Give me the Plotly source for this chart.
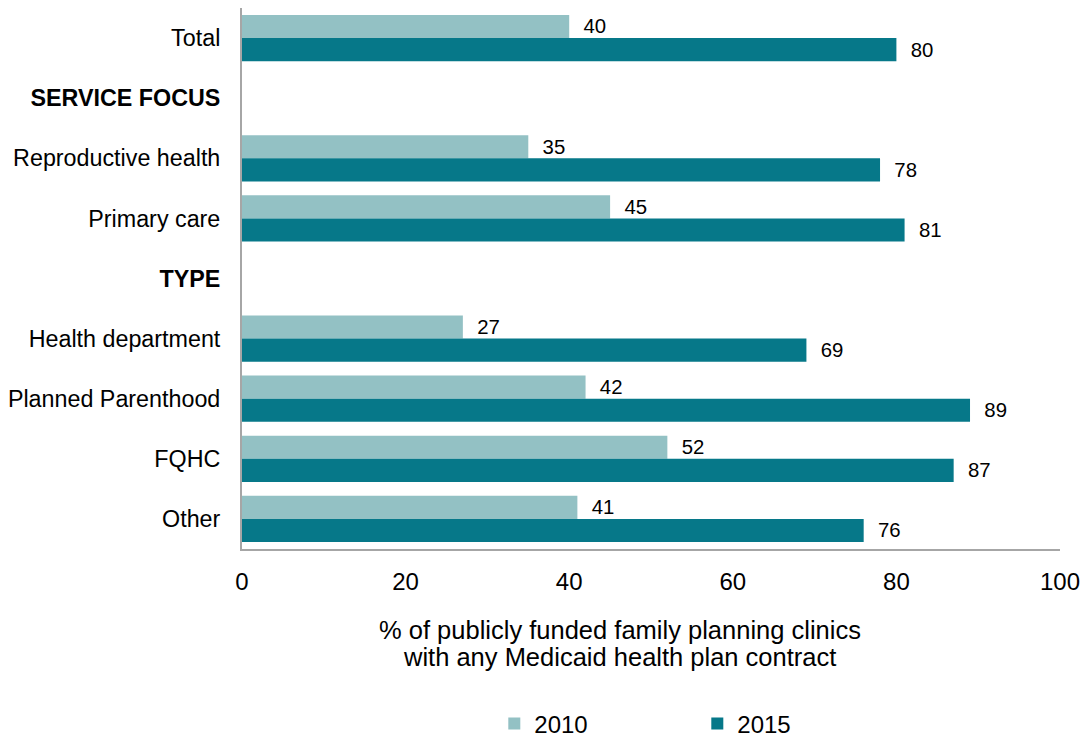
import plotly.graph_objects as go

categories = ["Total", "<b>SERVICE FOCUS</b>", "Reproductive health", "Primary care",
              "<b>TYPE</b>", "Health department", "Planned Parenthood", "FQHC", "Other"]
values_2010 = [40, None, 35, 45, None, 27, 42, 52, 41]
values_2015 = [80, None, 78, 81, None, 69, 89, 87, 76]
x_ticks = [0, 20, 40, 60, 80, 100]
axis_title_lines = ["% of publicly funded family planning clinics",
                    "with any Medicaid health plan contract"]

FONT = "Liberation Sans, Arial, sans-serif"
C2010 = "#93C1C4"
C2015 = "#067889"

fig = go.Figure()
for name, vals, col in [("2010", values_2010, C2010), ("2015", values_2015, C2015)]:
    fig.add_trace(go.Bar(
        name=name, y=categories, x=vals, orientation="h",
        marker=dict(color=col, line=dict(width=0)),
        text=[("" if v is None else f"{v}") for v in vals],
        texttemplate="  %{text}",
        textposition="outside",
        textfont=dict(family=FONT, size=22, color="#000000"),
        cliponaxis=False,
    ))

# two-line axis caption, placed as separate lines for tight leading
caption = []
for i, line in enumerate(axis_title_lines):
    caption.append(dict(
        text=line, xref="paper", yref="paper",
        x=0.462, y=(549 - (630 + 27 * i)) / 541,
        xanchor="center", yanchor="middle", showarrow=False,
        font=dict(family=FONT, size=25.5, color="#000000"),
    ))

fig.update_layout(
    barmode="group",
    bargap=0.23,
    bargroupgap=0,
    width=1084, height=738,
    margin=dict(l=242, r=24, t=8, b=189, autoexpand=False),
    plot_bgcolor="white", paper_bgcolor="white",
    font=dict(family=FONT, size=24, color="#000000"),
    showlegend=True,
    legend=dict(
        orientation="h", xref="container", yref="container",
        x=0.456, xanchor="left", y=0.019, yanchor="middle",
        entrywidth=158, entrywidthmode="pixels",
        font=dict(family=FONT, size=24, color="#000000"),
        traceorder="normal",
    ),
    xaxis=dict(
        range=[0, 100], tickvals=x_ticks, showgrid=False, zeroline=False,
        showline=True, linecolor="#A6A6A6", linewidth=2, ticks="",
        ticklabelstandoff=10, tickfont=dict(size=24), automargin=False,
    ),
    yaxis=dict(
        categoryorder="array", categoryarray=categories, autorange="reversed",
        showgrid=False, zeroline=False, showline=True, linecolor="#A6A6A6",
        linewidth=2, ticks="", ticklabelstandoff=15, tickfont=dict(size=23.3),
        automargin=False,
    ),
    annotations=caption,
)

fig.write_html("out.html")
